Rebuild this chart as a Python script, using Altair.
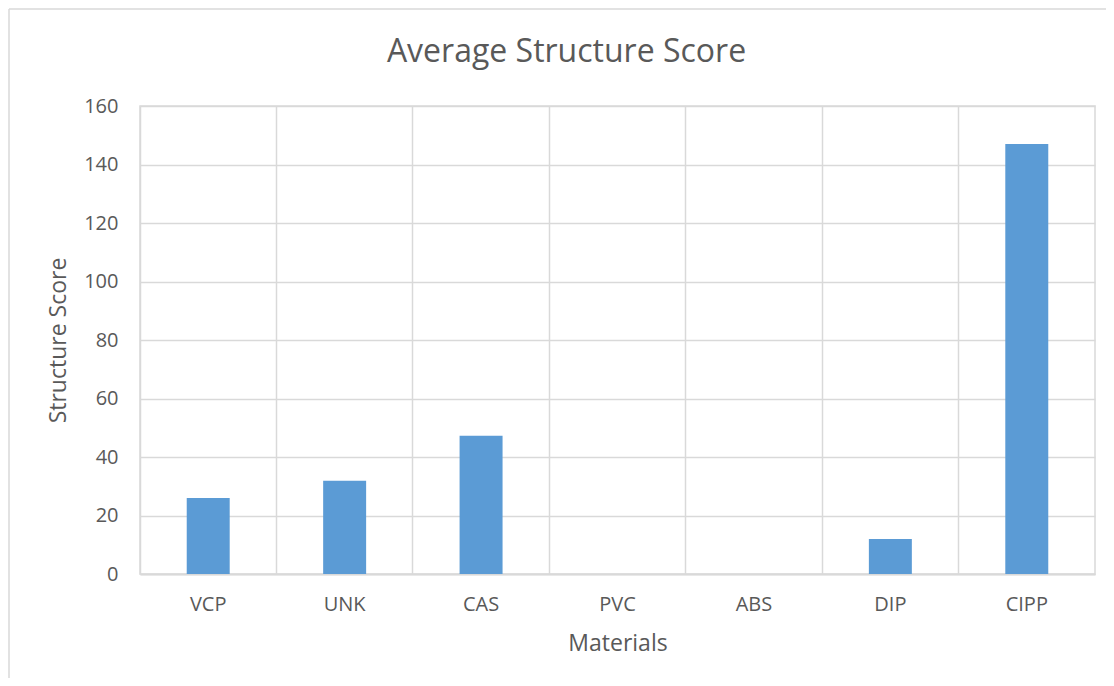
import altair as alt
import pandas as pd

materials = ["VCP", "UNK", "CAS", "PVC", "ABS", "DIP", "CIPP"]
scores = [26.0, 31.9, 47.3, 0.0, 0.0, 12.0, 147.0]

df = pd.DataFrame({"Material": materials, "Score": scores})

FONT = "Open Sans"
TXT = "#595959"
GRID = "#d9d9d9"
W, H = 955, 468

bars = alt.Chart(df).mark_bar(
    color="#5b9bd5", width={"band": 0.315}
).encode(
    x=alt.X(
        "Material:N",
        sort=materials,
        scale=alt.Scale(paddingInner=0, paddingOuter=0),
        axis=alt.Axis(
            title="Materials",
            bandPosition=0,
            labelAngle=0,
            grid=True,
            gridColor=GRID,
            gridWidth=1.5,
            ticks=False,
            domainColor=GRID,
            domainWidth=2,
            labelFont=FONT,
            labelFontSize=20,
            labelColor=TXT,
            labelPadding=20,
            titleFont=FONT,
            titleFontSize=23,
            titleFontWeight="normal",
            titleColor=TXT,
            titlePadding=18,
        ),
    ),
    y=alt.Y(
        "Score:Q",
        scale=alt.Scale(domain=[0, 160]),
        axis=alt.Axis(
            title="Structure Score",
            values=[0, 20, 40, 60, 80, 100, 120, 140, 160],
            grid=True,
            gridColor=GRID,
            gridWidth=1.5,
            ticks=False,
            domain=False,
            labelFont=FONT,
            labelFontSize=20,
            labelColor=TXT,
            labelPadding=22,
            titleFont=FONT,
            titleFontSize=23,
            titleFontWeight="normal",
            titleColor=TXT,
            titlePadding=13,
        ),
    ),
)

edge = pd.DataFrame({"k": [0]})
top_border = alt.Chart(edge).mark_rule(
    stroke=GRID, strokeWidth=1.5, clip=False
).encode(
    x=alt.value(-131),
    x2=alt.value(W + 11),
    y=alt.value(-97),
)
left_border = alt.Chart(edge).mark_rule(
    stroke=GRID, strokeWidth=1.5, clip=False
).encode(
    x=alt.value(-131),
    y=alt.value(-97),
    y2=alt.value(H + 104),
)

chart = alt.layer(top_border, left_border, bars).properties(
    width=W,
    height=H,
    autosize=alt.AutoSizeParams(type="none"),
    padding={"left": 132, "top": 98, "right": 11, "bottom": 104},
    title=alt.TitleParams(
        "Average Structure Score",
        font=FONT,
        fontSize=32,
        fontWeight="normal",
        color=TXT,
        anchor="middle",
        dx=-51,
        offset=0,
        dy=61,
    ),
).configure_view(stroke=GRID, strokeWidth=1.5)

chart.save("out.html", embed_options={"renderer": "svg", "actions": False})
